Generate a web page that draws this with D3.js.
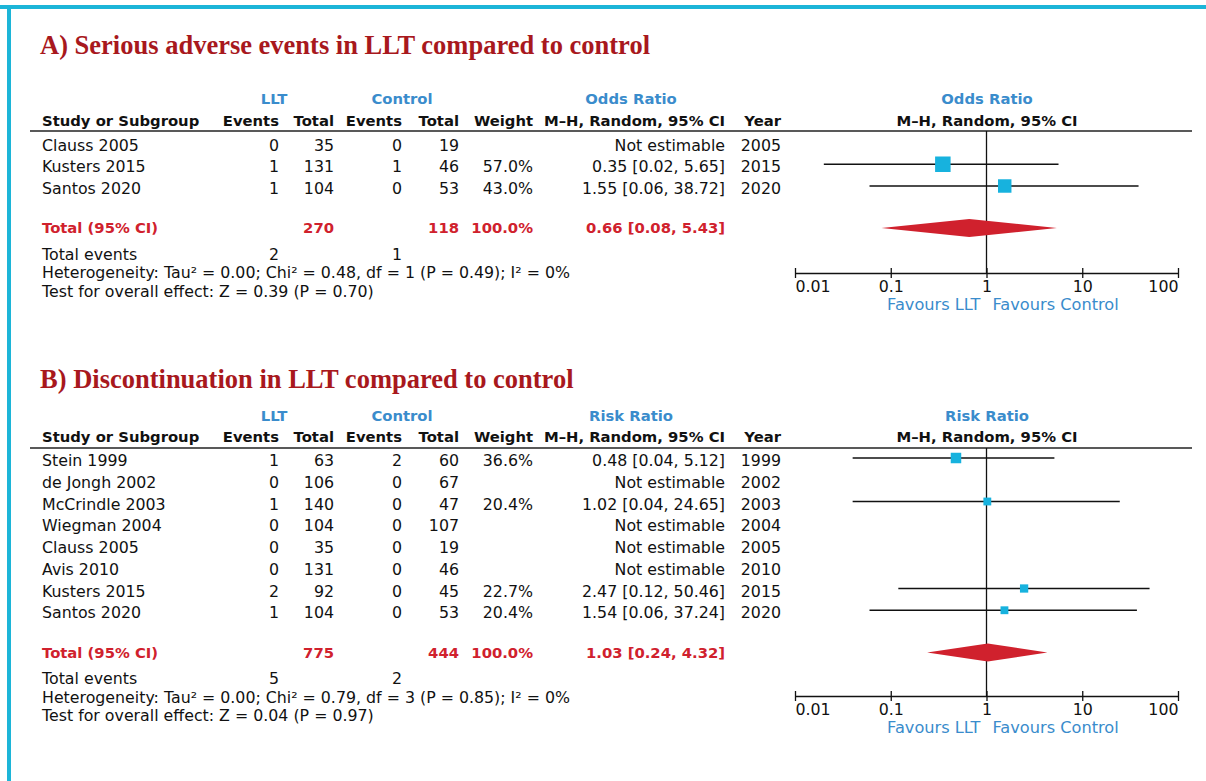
<!DOCTYPE html>
<html>
<head>
<meta charset="utf-8">
<script src="https://cdn.jsdelivr.net/npm/d3@7"></script>
<style>
  body { margin: 0; background: #fff; }
  svg text { font-family: "DejaVu Sans", Verdana, sans-serif; }
</style>
</head>
<body>
<script>
// ---- panel A : serious adverse events (odds ratio) ----
var studiesA = ["Clauss 2005", "Kusters 2015", "Santos 2020"];
var lltEventsA = [0, 1, 1];
var lltTotalA = [35, 131, 104];
var ctrlEventsA = [0, 1, 0];
var ctrlTotalA = [19, 46, 53];
var weightA = [null, 57.0, 43.0];
var estA = [null, 0.35, 1.55];
var lowA = [null, 0.02, 0.06];
var highA = [null, 5.65, 38.72];
var yearA = [2005, 2015, 2020];
var pooledA = [0.66, 0.08, 5.43];       // estimate, low, high
var sumTotalsA = [270, 118];           // LLT, control
var sumEventsA = [2, 1];
var hetA = "Heterogeneity: Tau² = 0.00; Chi² = 0.48, df = 1 (P = 0.49); I² = 0%";
var testA = "Test for overall effect: Z = 0.39 (P = 0.70)";

// ---- panel B : discontinuation (risk ratio) ----
var studiesB = ["Stein 1999", "de Jongh 2002", "McCrindle 2003", "Wiegman 2004", "Clauss 2005", "Avis 2010", "Kusters 2015", "Santos 2020"];
var lltEventsB = [1, 0, 1, 0, 0, 0, 2, 1];
var lltTotalB = [63, 106, 140, 104, 35, 131, 92, 104];
var ctrlEventsB = [2, 0, 0, 0, 0, 0, 0, 0];
var ctrlTotalB = [60, 67, 47, 107, 19, 46, 45, 53];
var weightB = [36.6, null, 20.4, null, null, null, 22.7, 20.4];
var estB = [0.48, null, 1.02, null, null, null, 2.47, 1.54];
var lowB = [0.04, null, 0.04, null, null, null, 0.12, 0.06];
var highB = [5.12, null, 24.65, null, null, null, 50.46, 37.24];
var yearB = [1999, 2002, 2003, 2004, 2005, 2010, 2015, 2020];
var pooledB = [1.03, 0.24, 4.32];
var sumTotalsB = [775, 444];
var sumEventsB = [5, 2];
var hetB = "Heterogeneity: Tau² = 0.00; Chi² = 0.79, df = 3 (P = 0.85); I² = 0%";
var testB = "Test for overall effect: Z = 0.04 (P = 0.97)";

var axisTicks = [0.01, 0.1, 1, 10, 100];

var W = 1206, H = 781;
var RED = "#d0212d", BLUE = "#3a8ccc", TITLE = "#a8181d", SQ = "#17b2de";
var FS = 15.8, FB = 14.8;   // regular / bold text size

var svg = d3.select("body").append("svg").attr("width", W).attr("height", H);

// cyan frame (only top and left visible)
svg.append("rect").attr("x", 0).attr("y", 5).attr("width", W).attr("height", 4).attr("fill", "#1cb5d8");
svg.append("rect").attr("x", 7).attr("y", 5).attr("width", 4).attr("height", H - 5).attr("fill", "#1cb5d8");

var x = d3.scaleLog().domain([0.01, 100]).range([795, 1178]);

// right edges of the table columns
var col = { study: 42, ev1: 279, tot1: 334, ev2: 402, tot2: 459, weight: 533, ci: 725, year: 781 };

function fmtCI(e, l, h) {
  return e.toFixed(2) + " [" + l.toFixed(2) + ", " + h.toFixed(2) + "]";
}

function txt(g, xx, yy, s, anchor, opts) {
  opts = opts || {};
  return g.append("text")
    .attr("x", xx).attr("y", yy)
    .attr("text-anchor", anchor || "start")
    .style("font-size", (opts.size || FS) + "px")
    .style("font-weight", opts.bold ? "bold" : "normal")
    .attr("fill", opts.fill || "#111")
    .text(s);
}

function drawPanel(p) {
  var g = svg.append("g");
  var b = 5.5; // baseline offset from row centre

  g.append("text").attr("x", 40).attr("y", p.titleY)
    .style("font-family", "'Liberation Serif', 'Times New Roman', serif")
    .style("font-size", "26.5px").style("font-weight", "bold")
    .attr("fill", TITLE).text(p.title);

  // group headers
  var hb = { size: FB, bold: true };
  var hblue = { size: FB, bold: true, fill: BLUE };
  txt(g, 274, p.groupY + b, "LLT", "middle", hblue);
  txt(g, 402, p.groupY + b, "Control", "middle", hblue);
  txt(g, 631, p.groupY + b, p.measure, "middle", hblue);
  txt(g, 987, p.groupY + b, p.measure, "middle", hblue);

  var hy = p.headY + b;
  txt(g, col.study, hy, "Study or Subgroup", "start", hb);
  txt(g, col.ev1, hy, "Events", "end", hb);
  txt(g, col.tot1, hy, "Total", "end", hb);
  txt(g, col.ev2, hy, "Events", "end", hb);
  txt(g, col.tot2, hy, "Total", "end", hb);
  txt(g, col.weight, hy, "Weight", "end", hb);
  txt(g, col.ci, hy, "M–H, Random, 95% CI", "end", hb);
  txt(g, col.year, hy, "Year", "end", hb);
  txt(g, 987, hy, "M–H, Random, 95% CI", "middle", hb);

  g.append("line").attr("x1", 30).attr("x2", 1192).attr("y1", p.lineY).attr("y2", p.lineY)
    .attr("stroke", "#222").attr("stroke-width", 1.6);

  var rowY = function(i) { return p.rowY0 + i * 21.75; };

  p.studies.forEach(function(s, i) {
    var yy = rowY(i) + b;
    txt(g, col.study, yy, s, "start");
    txt(g, col.ev1, yy, p.lltEvents[i], "end");
    txt(g, col.tot1, yy, p.lltTotal[i], "end");
    txt(g, col.ev2, yy, p.ctrlEvents[i], "end");
    txt(g, col.tot2, yy, p.ctrlTotal[i], "end");
    if (p.weight[i] != null) txt(g, col.weight, yy, p.weight[i].toFixed(1) + "%", "end");
    txt(g, col.ci, yy, p.est[i] == null ? "Not estimable" : fmtCI(p.est[i], p.low[i], p.high[i]), "end");
    txt(g, col.year, yy, p.year[i], "end");
  });

  // totals
  var red = { bold: true, size: FB, fill: RED };
  var ty = p.totalY + b;
  txt(g, col.study, ty, "Total (95% CI)", "start", red);
  txt(g, col.tot1, ty, p.sumTotals[0], "end", red);
  txt(g, col.tot2, ty, p.sumTotals[1], "end", red);
  txt(g, col.weight, ty, "100.0%", "end", red);
  txt(g, col.ci, ty, fmtCI(p.pooled[0], p.pooled[1], p.pooled[2]), "end", red);

  var ey = p.totalY + 26.5 + b;
  txt(g, col.study, ey, "Total events", "start");
  txt(g, col.ev1, ey, p.sumEvents[0], "end");
  txt(g, col.ev2, ey, p.sumEvents[1], "end");
  txt(g, col.study, ey + 18.5, p.het, "start");
  txt(g, col.study, ey + 37, p.test, "start");

  // forest plot
  var sz = d3.scaleSqrt().domain([0, d3.max(p.weight)]).range([0, p.maxSq]);

  g.append("line").attr("x1", x(1)).attr("x2", x(1)).attr("y1", p.lineY).attr("y2", p.axisY)
    .attr("stroke", "#111").attr("stroke-width", 1.3);

  var idx = d3.range(p.studies.length).filter(function(i) { return p.est[i] != null; });
  g.selectAll(".ci").data(idx).enter().append("line")
    .attr("x1", function(i) { return x(p.low[i]); })
    .attr("x2", function(i) { return x(p.high[i]); })
    .attr("y1", function(i) { return rowY(i) - 2.5; })
    .attr("y2", function(i) { return rowY(i) - 2.5; })
    .attr("stroke", "#111").attr("stroke-width", 1.3);
  g.selectAll(".sq").data(idx).enter().append("rect")
    .attr("x", function(i) { return x(p.est[i]) - sz(p.weight[i]) / 2; })
    .attr("y", function(i) { return rowY(i) - 2.5 - sz(p.weight[i]) / 2; })
    .attr("width", function(i) { return sz(p.weight[i]); })
    .attr("height", function(i) { return sz(p.weight[i]); })
    .attr("fill", SQ);

  var dy = p.totalY + 0.5;
  var dia = [[x(p.pooled[1]), dy], [x(p.pooled[0]), dy - 9], [x(p.pooled[2]), dy], [x(p.pooled[0]), dy + 9]];
  g.append("path").attr("d", d3.line()(dia) + "Z").attr("fill", RED);

  var ax = g.append("g").attr("transform", "translate(0," + p.axisY + ")")
    .call(d3.axisBottom(x).tickValues(axisTicks).tickSizeOuter(0)
      .tickFormat(function(d) { return String(d); }));
  ax.select(".domain").attr("stroke", "#111").attr("stroke-width", 1.3);
  ax.selectAll(".tick line").attr("y1", -5).attr("y2", 5).attr("stroke", "#111").attr("stroke-width", 1.3);
  ax.selectAll(".tick text")
    .attr("y", 19).attr("dy", null)
    .style("font-family", "'DejaVu Sans', sans-serif").style("font-size", FS + "px").attr("fill", "#111")
    .attr("text-anchor", function(d, i) { return i === 0 ? "start" : (i === axisTicks.length - 1 ? "end" : "middle"); });

  txt(g, x(1) - 6, p.axisY + 37, "Favours LLT", "end", { fill: BLUE, size: 16.2 });
  txt(g, x(1) + 6, p.axisY + 37, "Favours Control", "start", { fill: BLUE, size: 16.2 });
}

drawPanel({
  title: "A) Serious adverse events in LLT compared to control", titleY: 54, measure: "Odds Ratio",
  groupY: 98, headY: 120, lineY: 131, rowY0: 145, totalY: 227.5, axisY: 273, maxSq: 15.5,
  studies: studiesA, lltEvents: lltEventsA, lltTotal: lltTotalA, ctrlEvents: ctrlEventsA, ctrlTotal: ctrlTotalA,
  weight: weightA, est: estA, low: lowA, high: highA, year: yearA,
  pooled: pooledA, sumTotals: sumTotalsA, sumEvents: sumEventsA, het: hetA, test: testA
});

drawPanel({
  title: "B) Discontinuation in LLT compared to control", titleY: 388, measure: "Risk Ratio",
  groupY: 415, headY: 436, lineY: 448, rowY0: 460.5, totalY: 652, axisY: 696, maxSq: 10.5,
  studies: studiesB, lltEvents: lltEventsB, lltTotal: lltTotalB, ctrlEvents: ctrlEventsB, ctrlTotal: ctrlTotalB,
  weight: weightB, est: estB, low: lowB, high: highB, year: yearB,
  pooled: pooledB, sumTotals: sumTotalsB, sumEvents: sumEventsB, het: hetB, test: testB
});
</script>
</body>
</html>
